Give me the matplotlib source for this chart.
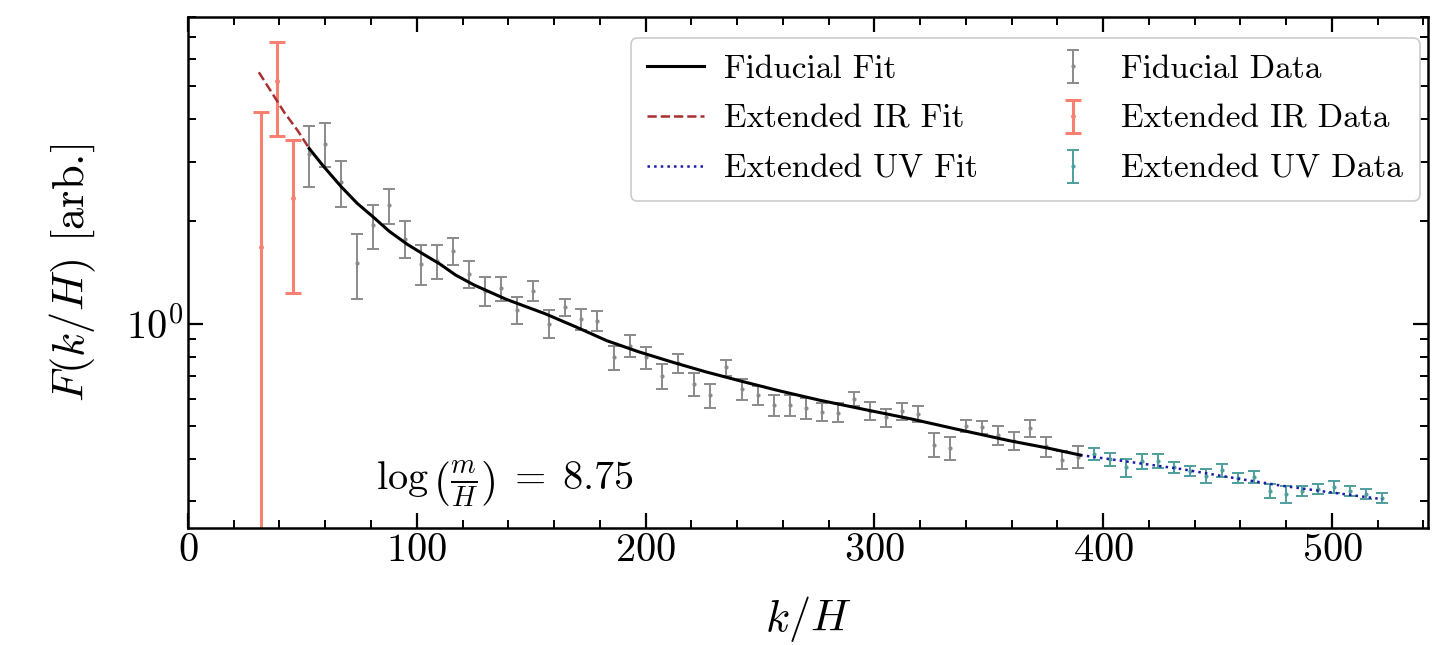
import numpy as np
import matplotlib
matplotlib.use("Agg")
import matplotlib.pyplot as plt
from matplotlib.ticker import MultipleLocator, LogLocator, NullFormatter

plt.rcParams["font.family"] = "serif"
plt.rcParams["font.serif"] = ["cmr10", "DejaVu Serif"]
plt.rcParams["mathtext.fontset"] = "cm"
plt.rcParams["axes.formatter.use_mathtext"] = True
plt.rcParams["axes.unicode_minus"] = False

# extended IR data
k_ir = [32, 39, 46]
F_ir = [1.68, 5.17, 2.35]
err_ir = [2.51, 1.60, 1.12]

# fiducial data
k_fid = [53, 60, 67, 74, 81, 88, 95, 102, 109, 116, 123, 130, 137, 144, 151,
         158, 165, 172, 179, 186, 193, 200, 207, 214, 221, 228, 235, 242, 249,
         256, 263, 270, 277, 284, 291, 298, 305, 312, 319, 326, 333, 340, 347,
         354, 361, 368, 375, 382, 389]
F_fid = [3.17, 3.39, 2.61, 1.51, 1.95, 2.23, 1.78, 1.50, 1.53, 1.64, 1.40, 1.25,
         1.27, 1.10, 1.25, 1.00, 1.12, 1.03, 1.02, 0.795, 0.861, 0.795, 0.70,
         0.765, 0.664, 0.615, 0.743, 0.642, 0.615, 0.576, 0.576, 0.563, 0.55,
         0.547, 0.60, 0.553, 0.529, 0.551, 0.543, 0.44, 0.43, 0.50, 0.496, 0.47,
         0.452, 0.492, 0.435, 0.397, 0.405]
err_fid = [0.65, 0.50, 0.40, 0.33, 0.29, 0.26, 0.22, 0.20, 0.18, 0.15, 0.13, 0.12,
           0.105, 0.10, 0.085, 0.095, 0.065, 0.075, 0.07, 0.065, 0.065, 0.06, 0.06,
           0.05, 0.05, 0.05, 0.04, 0.045, 0.04, 0.04, 0.04, 0.04, 0.035, 0.035,
           0.03, 0.033, 0.032, 0.032, 0.03, 0.035, 0.033, 0.02, 0.022, 0.03,
           0.028, 0.028, 0.03, 0.025, 0.03]

# extended UV data
k_uv = [396, 403, 410, 417, 424, 431, 438, 445, 452, 459, 466, 473, 480, 487,
        494, 501, 508, 515, 522]
F_uv = [0.413, 0.399, 0.377, 0.394, 0.394, 0.377, 0.368, 0.356, 0.370, 0.352,
        0.354, 0.322, 0.315, 0.322, 0.326, 0.330, 0.322, 0.315, 0.307]
err_uv = [0.017, 0.018, 0.023, 0.020, 0.018, 0.013, 0.013, 0.016, 0.017, 0.012,
          0.014, 0.015, 0.018, 0.011, 0.011, 0.013, 0.011, 0.011, 0.011]

# fitted curves
k_fit_ir = [31, 37, 42, 48, 53]
F_fit_ir = [5.5, 4.75, 4.2, 3.7, 3.28]
k_fit = [53, 59, 67, 74, 81, 88, 96, 103, 110, 117, 125, 139, 156, 170, 183,
         197, 212, 226, 241, 258, 276, 296, 316, 337, 359, 375, 390]
F_fit = [3.28, 2.92, 2.53, 2.26, 2.06, 1.87, 1.71, 1.60, 1.50, 1.39, 1.30, 1.18,
         1.07, 0.975, 0.891, 0.826, 0.769, 0.722, 0.679, 0.635, 0.595, 0.558,
         0.524, 0.487, 0.452, 0.431, 0.410]
k_fit_uv = [390, 412, 434, 456, 478, 500, 522]
F_fit_uv = [0.410, 0.391, 0.373, 0.352, 0.333, 0.318, 0.304]

log_mH = 8.75

fig = plt.figure(figsize=(14.39, 6.45), dpi=100)
ax = fig.add_axes([0.1306, 0.1814, 0.8618, 0.7922])

ax.errorbar(k_fid, F_fid, yerr=err_fid, fmt=".", color="#8a8a8a", ms=4,
            elinewidth=1.4, capsize=4.5, capthick=1.4, label="Fiducial Data", zorder=2)
ax.errorbar(k_ir, F_ir, yerr=err_ir, fmt=".", color="#f88070", ms=5,
            elinewidth=2.2, capsize=6, capthick=2.2, label="Extended IR Data", zorder=2)
ax.errorbar(k_uv, F_uv, yerr=err_uv, fmt=".", color="#4f9e9e", ms=4,
            elinewidth=1.4, capsize=4.5, capthick=1.4, label="Extended UV Data", zorder=2)

ax.plot(k_fit, F_fit, "-", color="black", lw=2.2, label="Fiducial Fit", zorder=4)
ax.plot(k_fit_ir, F_fit_ir, "--", color="#a83030", lw=1.8, label="Extended IR Fit", zorder=3)
ax.plot(k_fit_uv, F_fit_uv, ":", color="#1a1aa8", lw=1.8, label="Extended UV Fit", zorder=3)

ax.set_yscale("log")
ax.set_xlim(0, 542)
ax.set_ylim(0.25, 8.0)

ax.xaxis.set_major_locator(MultipleLocator(100))
ax.xaxis.set_minor_locator(MultipleLocator(20))
ax.yaxis.set_minor_locator(LogLocator(base=10, subs=np.arange(2, 10)))
ax.yaxis.set_minor_formatter(NullFormatter())

ax.tick_params(which="both", direction="in", top=True, right=True, labelsize=29)
ax.tick_params(which="major", length=11, width=1.6)
ax.tick_params(which="minor", length=5.5, width=1.4)
for sp in ax.spines.values():
    sp.set_linewidth(1.8)

ax.set_xlabel(r"$k/H$", fontsize=32, labelpad=18)
ax.set_ylabel(r"$F(k/H)$ [arb.]", fontsize=32, labelpad=20)

ax.text(0.152, 0.085, r"$\log\left(\frac{m}{H}\right)\;=\;%.2f$" % log_mH,
        transform=ax.transAxes, fontsize=29, ha="left", va="center")

handles, labels = ax.get_legend_handles_labels()
order = ["Fiducial Fit", "Extended IR Fit", "Extended UV Fit",
         "Fiducial Data", "Extended IR Data", "Extended UV Data"]
hmap = dict(zip(labels, handles))
leg = ax.legend([hmap[o] for o in order], order, ncol=2, loc="upper right",
                bbox_to_anchor=(0.9935, 0.959), borderaxespad=0,
                fontsize=24, handlelength=1.7, handletextpad=0.6,
                columnspacing=2.0, labelspacing=0.62, borderpad=0.5,
                fancybox=True, framealpha=1.0, edgecolor="#cccccc")
leg.get_frame().set_linewidth(1.2)

fig.savefig("out.png", dpi=100)
